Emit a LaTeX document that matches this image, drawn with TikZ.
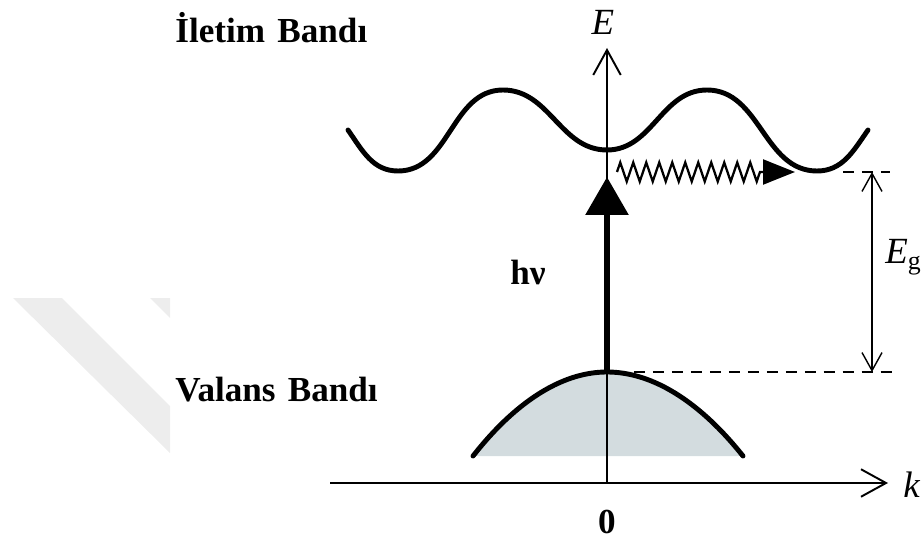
\documentclass[tikz,border=0pt]{standalone}
\usepackage{fontspec}
\setmainfont{Liberation Serif}
\usepackage{xcolor}
\usepackage{tikz}
\usetikzlibrary{arrows.meta, decorations.pathmorphing}

\definecolor{vbfill}{HTML}{D3DCDF}
\definecolor{wmark}{HTML}{EDEDED}

\begin{document}
\begin{tikzpicture}[
    x=0.02cm, y=0.02cm,
    axis/.style={line width=1.1pt, -{Straight Barb[length=0.5cm, width=0.55cm]}},
    band/.style={line width=2.8pt, line cap=round},
    gapline/.style={line width=1.4pt, dash pattern=on 6.5pt off 4.3pt},
    lbl/.style={font=\fontsize{20}{24}\selectfont\bfseries, inner sep=0pt},
    sym/.style={font=\fontsize{21}{25}\selectfont\itshape, inner sep=0pt}
]
\useasboundingbox (0,0) rectangle (921,542);

% watermark
\fill[wmark] (13,244) -- (62,244) -- (170,136) -- (170,89) -- cycle;
\fill[wmark] (150,244) -- (170,244) -- (170,224) -- cycle;

% valence band
\coordinate (vbL) at (473,86);
\coordinate (vbtop) at (607,170);
\coordinate (vbR) at (743,86);
\fill[vbfill] (vbL) parabola bend (vbtop) (vbR) -- cycle;
\draw[band] (vbL) parabola bend (vbtop) (vbR);

% axes
\coordinate (O) at (607,59);
\coordinate (kstart) at (330,59);
\coordinate (kend) at (888,59);
\coordinate (Etop) at (607,494);
\draw[axis] (kstart) -- (kend);
\draw[axis] (O) -- (Etop);

% conduction band
\draw[band] (348,412) to[out=-55,in=180] (398,371)
    to[out=0,in=180] (503,452) to[out=0,in=180] (607,392)
    to[out=0,in=180] (707,452) to[out=0,in=180] (817,371)
    to[out=0,in=-125] (868,412);

% absorption and relaxation
\coordinate (hvtip) at (607,365);
\draw[line width=3.4pt, -{Triangle[length=0.76cm, width=0.84cm]}] (vbtop) -- (hvtip);
\coordinate (zzS) at (617,370);
\coordinate (zzE) at (795,370);
\draw[line width=1.3pt, decorate,
    decoration={zigzag, amplitude=0.19cm, segment length=0.26cm, post length=0.66cm},
    -{Triangle[length=0.64cm, width=0.5cm]}] (zzS) -- (zzE);

% gap
\coordinate (dT1) at (843,370);
\coordinate (dT2) at (890,370);
\coordinate (dB1) at (615,170);
\coordinate (dB2) at (893,170);
\coordinate (egT) at (872,370);
\coordinate (egB) at (872,170);
\draw[gapline] (dT1) -- (dT2);
\draw[gapline] (dB1) -- (dB2);
\draw[line width=0.8pt, {Straight Barb[length=0.36cm, width=0.4cm]}-{Straight Barb[length=0.36cm, width=0.4cm]}] (egT) -- (egB);

% labels
\node[lbl, anchor=west] (cblabel) at (175,514) {İletim\hspace{0.35em}Bandı};
\node[lbl, anchor=west] (vblabel) at (175,152) {Valans\hspace{0.35em}Bandı};
\node[lbl] (hv) at (528,270) {hν};
\node[sym] (Elabel) at (603,520) {E};
\node[sym, anchor=west] (klabel) at (903,57) {k};
\node[lbl] (zero) at (607,20) {0};
\node[sym, anchor=west] (Eg) at (885,285) {E{\upshape\textsubscript{g}}};
\end{tikzpicture}
\end{document}
